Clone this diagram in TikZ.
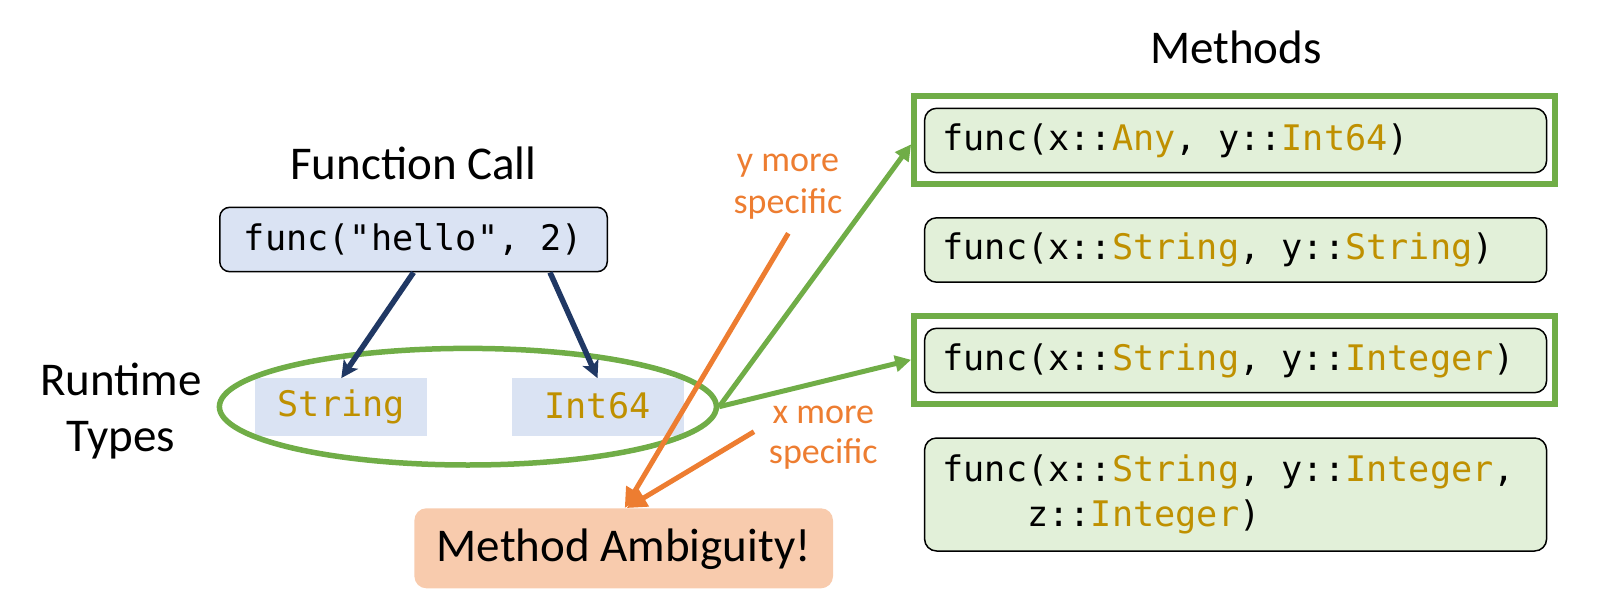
\documentclass[tikz,border=0pt]{standalone}
\usepackage{fontspec}
\setmainfont{Carlito}
\newfontfamily\monof{DejaVu Sans Mono}
\usetikzlibrary{arrows.meta,shapes.geometric,calc}
\definecolor{callfill}{HTML}{DAE3F3}
\definecolor{navy}{HTML}{203864}
\definecolor{gold}{HTML}{BF9000}
\definecolor{hlgreen}{HTML}{70AD47}
\definecolor{mfill}{HTML}{E2F0D9}
\definecolor{orng}{HTML}{ED7D31}
\definecolor{ambfill}{HTML}{F8CBAD}
\newcommand{\ty}[1]{\textcolor{gold}{#1}}
\newcommand{\cstr}{\rule[-5pt]{0pt}{32pt}}
\newcommand{\tstr}{\rule[-12pt]{0pt}{50pt}}
\newcommand{\nstr}{\rule[-9pt]{0pt}{39pt}}
\newcommand{\mline}[1]{\makebox[586pt][l]{\cstr #1}}
\begin{document}
\begin{tikzpicture}[x=1pt,y=-1pt,
  title/.style={font=\fontsize{47}{56.7}\selectfont, inner sep=0pt},
  code/.style={font=\monof\fontsize{35.2}{45}\selectfont},
  callbox/.style={code, draw=black, line width=1.5pt, fill=callfill, rounded corners=10pt,
    minimum width=387.5pt, minimum height=64.4pt, inner sep=0pt},
  typebox/.style={code, fill=callfill, text=gold, minimum width=172pt, minimum height=57.7pt, inner sep=0pt},
  mbox/.style={code, draw=black, line width=1.5pt, fill=mfill, rounded corners=12pt,
    inner xsep=18pt, inner ysep=0pt, minimum height=64.4pt, align=left},
  hlbox/.style={draw=hlgreen, line width=6pt, minimum width=641pt, minimum height=88pt, inner sep=0pt},
  note/.style={text=orng, align=center, inner sep=0pt, anchor=north},
  navyarrow/.style={draw=navy, line width=5.5pt, -{Stealth[length=17pt,width=17pt,inset=4pt]}},
  greenarrow/.style={draw=hlgreen, line width=5pt, -{Triangle[length=16pt,width=16pt]}},
  orangearrow/.style={draw=orng, line width=5pt, -{Triangle[length=20pt,width=19pt]}}
]
\useasboundingbox (0,0) rectangle (1599,599);

% left side
\node[title, anchor=base] (fctitle) at (413.5,179.3) {Function Call};
\node[callbox] (call) at (413.5,239.5) {\cstr func("hello", 2)};
\node[title, align=center, anchor=north] (rtlabel) at (121,357) {\tstr Runtime\\\tstr Types};
\node[typebox] (str) at (341.3,407.2) {\cstr String};
\node[typebox] (int) at (597.5,407.2) {\cstr Int64};
\node[draw=hlgreen, line width=5.5pt, ellipse, minimum width=497pt, minimum height=116.6pt, inner sep=0pt] (rt) at (467.9,406.7) {};

\draw[navyarrow] (call.south) -- (str.north);
\draw[navyarrow] ([xshift=136.5pt]call.south) -- (int.north);

% methods
\node[title, anchor=base] (mtitle) at (1236,64) {Methods};
\node[mbox] (m1) at (1235.6,140.5) {\mline{func(x::\ty{Any}, y::\ty{Int64})}};
\node[mbox] (m2) at (1235.6,250) {\mline{func(x::\ty{String}, y::\ty{String})}};
\node[mbox] (m3) at (1235.6,360.5) {\mline{func(x::\ty{String}, y::\ty{Integer})}};
\node[mbox, minimum height=113pt] (m4) at (1235.6,494.5) {\mline{func(x::\ty{String}, y::\ty{Integer},}\\\mline{\phantom{func}z::\ty{Integer})}};
\node[hlbox] (g1) at (1234.65,140.3) {};
\node[hlbox] (g2) at (1234.65,359.8) {};

\draw[greenarrow] (rt.east) -- ([yshift=-4pt]g1.west);
\draw[greenarrow] (rt.east) -- (g2.west);

% ambiguity
\node[fill=ambfill, rounded corners=12pt, minimum width=418.6pt, minimum height=80pt, inner sep=0pt,
  font=\fontsize{47}{56}\selectfont] (amb) at (623.7,548.3) {\rule[-4pt]{0pt}{38pt}Method Ambiguity!};

\node[note, font=\fontsize{36}{41.6}\selectfont] (ynote) at (788,141.7) {\nstr y more\\\nstr specific};
\node[note, font=\fontsize{36}{38.4}\selectfont] (xnote) at (823.3,393.3) {\nstr x more\\\nstr specific};

\coordinate (ystart) at (788.3,233.3);
\coordinate (xstart) at (754,431.7);
\draw[orangearrow] (ystart) -- ([xshift=1pt]amb.north);
\draw[orangearrow] (xstart) -- ([xshift=3pt]amb.north);
\end{tikzpicture}
\end{document}
